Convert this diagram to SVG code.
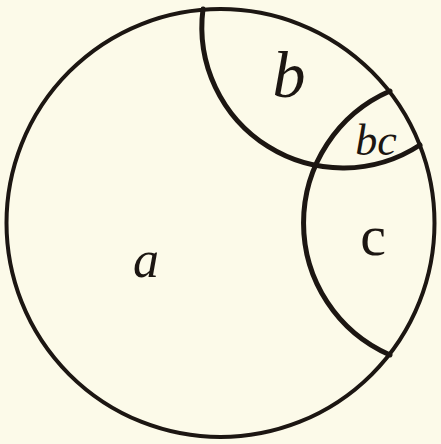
<svg xmlns="http://www.w3.org/2000/svg" width="441" height="444" viewBox="0 0 441 444">
<style>
.ln{fill:none;stroke:#1c1612;stroke-linecap:round}
.lb{font-family:"Liberation Serif",serif;font-style:italic;fill:#1c1612;text-anchor:middle}
.up{font-style:normal}
</style>
<rect width="441" height="444" fill="#fcfae9"/>
<g id="a">
<circle class="ln" cx="220.5" cy="223" r="214" stroke-width="4"/>
<text class="lb" x="146" y="277" font-size="52">a</text>
</g>
<g id="b">
<path class="ln" stroke-width="5" d="M203,9 A141,141 0 0 0 420,145"/>
<text class="lb" x="289" y="97" font-size="66">b</text>
</g>
<g id="c">
<path class="ln" stroke-width="5" d="M390,91 A144,144 0 0 0 390,355"/>
<text class="lb up" x="373" y="255" font-size="58">c</text>
</g>
<g id="bc">
<text class="lb" x="376" y="155" font-size="44">bc</text>
</g>
</svg>
